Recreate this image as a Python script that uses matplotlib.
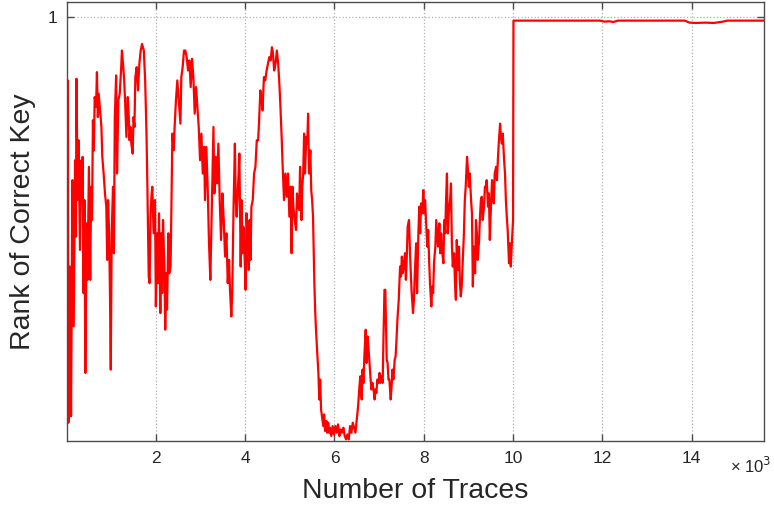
import numpy as np
import matplotlib
matplotlib.use("Agg")
import matplotlib.pyplot as plt
from matplotlib.ticker import FuncFormatter

# rank of the correct key vs. number of traces
traces = [
    10, 30, 40, 70, 100, 130, 160, 190, 210, 220, 250, 270, 300, 330, 340, 360,
    380, 400, 420, 450, 470, 500, 530, 550, 570, 590, 610, 630, 660, 680, 700,
    720, 750, 780, 800, 830, 860, 890, 910, 930, 950, 970, 990, 1010, 1040,
    1060, 1080, 1110, 1130, 1160, 1190, 1220, 1240, 1270, 1290, 1310, 1340,
    1370, 1390, 1410, 1430, 1450, 1480, 1500, 1520, 1540, 1570, 1600, 1630,
    1660, 1690, 1730, 1760, 1790, 1810, 1840, 1860, 1880, 1900, 1920, 1950,
    1980, 2000, 2030, 2050, 2070, 2100, 2120, 2140, 2160, 2190, 2210, 2230,
    2250, 2280, 2300, 2330, 2370, 2400, 2420, 2450, 2480,
    2550, 2570, 2600, 2630, 2660, 2690, 2720, 2750, 2780, 2810, 2840, 2870,
    2900, 2930, 2960, 2990, 3020, 3050, 3080, 3100, 3130, 3160, 3190, 3220,
    3250, 3270, 3290, 3310, 3340, 3370, 3400, 3430, 3460, 3490, 3520, 3550,
    3580, 3610, 3640, 3660, 3690, 3710, 3740, 3770, 3790, 3810, 3840, 3870,
    3900, 3920, 3940, 3960, 3990, 4010, 4030, 4050, 4080, 4100, 4120, 4140,
    4170, 4200, 4230, 4260, 4290, 4310, 4340, 4370, 4390, 4420, 4450, 4480,
    4510, 4540, 4570, 4600, 4620, 4650, 4680, 4710, 4740, 4770, 4790, 4820,
    4840, 4870, 4900, 4930, 4960, 4990, 5020, 5040, 5060, 5080, 5110, 5140,
    5160,
    5190, 5210, 5230, 5260, 5280, 5300, 5320, 5340, 5370, 5390, 5410, 5430,
    5460, 5480, 5500, 5520, 5550, 5570, 5590, 5610, 5640, 5660, 5680, 5700,
    5730, 5750, 5770, 5790, 5820, 5840, 5860, 5880, 5900, 5930, 5960, 5990,
    6020, 6050, 6080, 6110, 6140, 6170, 6200, 6230, 6260, 6290, 6320, 6350,
    6380, 6410, 6440, 6470, 6500, 6530, 6560, 6580, 6610, 6630, 6650, 6670,
    6700, 6720, 6740, 6760, 6790, 6810, 6830, 6850, 6880, 6900, 6920, 6940,
    6960, 6990, 7010, 7030, 7050, 7080, 7100, 7120, 7140, 7170, 7190, 7210,
    7230, 7260, 7280, 7300, 7320, 7350, 7370, 7390, 7410, 7440, 7470, 7490,
    7510, 7530, 7560, 7580, 7600, 7620, 7640, 7670, 7690, 7710, 7730, 7760,
    7780, 7800, 7820,
    7830, 7850, 7880, 7900, 7920, 7940, 7970, 7990, 8010, 8030, 8050, 8080,
    8100, 8120, 8140, 8170, 8190, 8210, 8230, 8260, 8280, 8300, 8320, 8350,
    8370, 8390, 8410, 8440, 8460, 8480, 8500, 8520, 8540, 8560, 8590, 8610,
    8630, 8650, 8680, 8700, 8720, 8740, 8760, 8790, 8810, 8830, 8850, 8880,
    8900, 8920, 8940, 8970, 8990, 9010, 9030, 9060, 9080, 9100, 9120, 9150,
    9170, 9190, 9210, 9240, 9260, 9280, 9300, 9320, 9350, 9370, 9390, 9410,
    9440, 9460, 9480, 9500, 9530, 9550, 9570, 9590, 9620, 9640, 9660, 9680,
    9710, 9730, 9750, 9770, 9800, 9820, 9840, 9860, 9880, 9910, 9930, 9950,
    9970, 10000,
    10010, 11950, 12050, 12150, 12250, 12350, 13850, 13950, 14100, 14300,
    14500, 14700, 14800, 15620,
]
rank = [
    219, 39, 245, 151, 241, 99, 187, 87, 133, 38, 111, 75, 141, 87, 111, 85,
    167, 111, 215, 125, 159, 91, 159, 103, 123, 63, 81, 49, 55, 34, 61,
    47, 57, 67, 85, 95, 107, 115, 147, 111, 129, 163, 213, 131, 103,
    143, 61, 36, 95, 51, 47, 33, 21, 31, 39, 51, 73,
    49, 59, 75, 67, 77, 83, 61, 67, 37, 31, 45, 29,
    21, 17, 21, 39, 71, 103, 157, 161, 121, 109, 103, 131,
    111, 175, 131, 161, 119, 179, 131, 167, 123, 151, 189, 155,
    177, 131, 155, 151, 71, 81, 67, 51, 39,
    65, 37, 31, 21, 21, 25, 33, 27, 43, 26, 37, 59,
    43, 55, 67, 87, 71, 95, 79, 111, 79, 103, 137, 159,
    119, 91, 67, 107, 85, 101, 77, 111, 135, 107, 123, 145,
    131, 161, 147, 165, 181, 167, 115, 77, 111, 121, 103, 83,
    151, 111, 143, 127, 147, 165, 119, 131, 153, 123, 147, 115,
    111, 95, 91, 75, 75, 65, 45, 51, 57, 37, 39, 33,
    29, 25, 27, 19, 22, 33, 29, 21, 29, 43, 55, 75,
    91, 111, 95, 109, 95, 121, 103, 143, 103, 115, 123, 129,
    107,
    115, 117, 91, 123, 103, 95, 71, 95, 73, 77, 59, 95,
    81, 105, 111, 121, 161, 179, 191, 201, 215, 231, 219, 237,
    243, 247, 240, 250, 244, 251, 245, 251, 248, 253, 247, 252,
    247, 251, 246, 253, 249, 251, 248, 253, 255, 252, 255, 247,
    251, 245, 248, 251, 243, 235, 223, 217, 231, 213, 221, 205,
    189, 209, 193, 199, 211, 219, 225, 221, 226, 231, 225, 227,
    219, 221, 215, 221, 217, 221, 191, 165, 165, 207, 209, 219,
    219, 231, 223, 213, 219, 207, 205, 195, 183, 171, 151, 157,
    145, 155, 149, 143, 159, 145, 127, 123, 141, 155, 167, 179,
    171, 155, 143,
    137, 167, 131, 115, 131, 113, 119, 105, 119, 111, 123, 139,
    129, 147, 161, 175, 163, 167, 149, 139, 123, 131, 139, 125,
    143, 131, 141, 149, 123, 131, 111, 95, 131, 119, 111, 101,
    137, 151, 143, 161, 171, 135, 153, 139, 161, 169, 163, 143,
    131, 111, 103, 85, 93, 103, 95, 111, 119, 163, 139, 155,
    123, 131, 147, 135, 121, 111, 109, 123, 115, 103, 103, 99,
    115, 107, 135, 119, 99, 107, 113, 95, 91, 99, 87, 77,
    65, 73, 77, 71, 87, 95, 111, 121, 129, 149, 137, 151,
    139, 123,
    3, 3, 3.6, 3.4, 3.8, 3, 3, 4.2, 4.4, 4.2,
    4.4, 3.6, 3, 3,
]
x_ticks = [2000, 4000, 6000, 8000, 10000, 12000, 14000]

plt.rcParams['font.family'] = ['Liberation Sans', 'DejaVu Sans']

fig = plt.figure(figsize=(7.74, 5.05), dpi=100)
ax = fig.add_axes([0.0866, 0.1267, 0.9004, 0.8693])

ax.plot(traces, rank, color='#ff0000', linewidth=1.6)

ax.set_xlim(10, 15620)
ax.set_ylim(256, -8.2)
ax.set_xticks(x_ticks)
ax.set_yticks([1])
# labels in thousands, exponent shown separately like MATLAB
ax.xaxis.set_major_formatter(FuncFormatter(lambda v, p: '%g' % (v / 1000)))
ax.text(1.011, -0.057, '× 10$^{3}$', transform=ax.transAxes, ha='right',
        va='center', fontsize=12, color='#262626')

ax.grid(True, linestyle=':', color='#b0b0b0', linewidth=0.9)
ax.tick_params(direction='in', length=5, width=1, colors='#4d4d4d',
               labelcolor='#262626', labelsize=12.5, pad=7, top=True, right=True)
for s in ax.spines.values():
    s.set_color('#4d4d4d')
    s.set_linewidth(1)

ax.set_xlabel('Number of Traces', fontsize=20.5, color='#262626', labelpad=9)
ax.set_ylabel('Rank of Correct Key', fontsize=20.5, color='#262626', labelpad=8)

fig.savefig('out.png', dpi=100)
